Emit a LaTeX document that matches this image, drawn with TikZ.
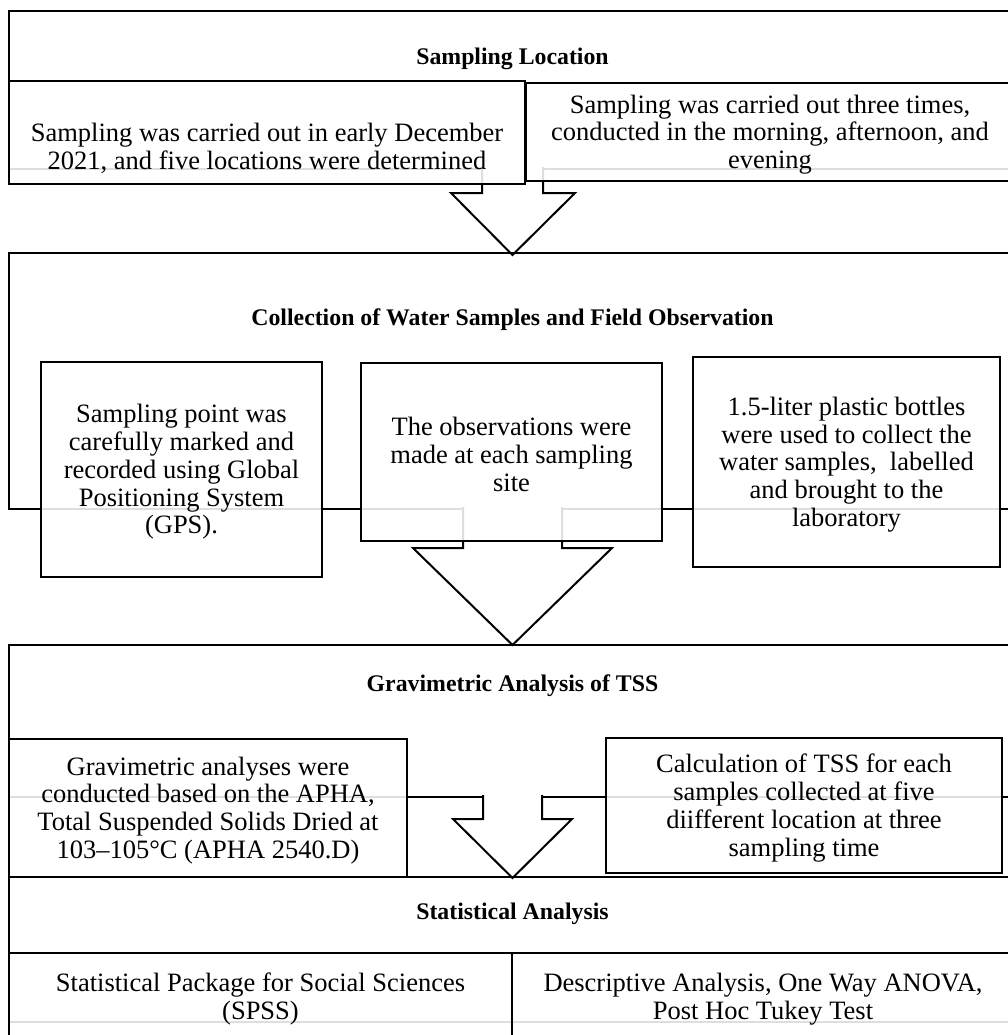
\documentclass[tikz,border=0pt]{standalone}
\usepackage{fontspec}
\setmainfont{Liberation Serif}
\usepackage{tikz}
\usetikzlibrary{calc, positioning, fit}
\tikzset{
    stage/.style={draw, line width=1pt, inner sep=0pt},
    heading/.style={font=\fontsize{11.9pt}{13pt}\selectfont\bfseries},
    subbox/.style={draw, line width=1pt, fill=white, fill opacity=0.87,
        inner sep=0pt},
    boxtext/.style={align=center, inner sep=0pt, yshift=-1.25pt,
        font=\fontsize{13.25pt}{13.9pt}\selectfont},
    flow/.style={draw, line width=1pt, fill=white, line join=miter} }

\begin{document}
\begin{tikzpicture}[x=0.5pt, y=-0.5pt]
      \useasboundingbox (0,0) rectangle (1008,1035);
      \clip (0,0) rectangle (1008,1035);
      % ---- sampling location
      \node[stage, fit={(9,11) (1016,169)}] (locbox) {};
      \node[heading] (loc) at (512.5,59) {Sampling Location};
      \draw[flow] (482,167) -- (482,193) -- (451,193) --
          (512.5,255) -- (575,193) -- (543,193) -- (543,167);
      \node[subbox, fit={(9,81) (525,184)}] (locA) {};
      \node[subbox, fit={(526,83) (1014,181)}] (locB) {};
      \node[boxtext, yshift=-6.75pt] (locAtext) at (locA.center)
          {Sampling was carried out in early December\\
           2021, and five locations were determined};
      \node[boxtext] (locBtext) at (locB.center)
          {Sampling was carried out three times,\\
           conducted in the morning, afternoon, and\\ evening};
      % ---- collection
      \node[stage, fit={(9,253) (1016,509)}] (collbox) {};
      \node[heading] (coll) at (512.5,320)
          {Collection of Water Samples and Field Observation};
      \draw[flow] (463,507) -- (463,548) -- (413,548) --
          (512.5,645) -- (612,548) -- (562,548) -- (562,507);
      \node[subbox, fit={(41,362) (322,577)}] (collA) {};
      \node[subbox, fit={(361,363) (662,541)}] (collB) {};
      \node[subbox, fit={(693,357) (1000,567)}] (collC) {};
      \node[boxtext] (collAtext) at (collA.center)
          {Sampling point was\\ carefully marked and\\ recorded using Global\\
           Positioning System\\ (GPS).};
      \node[boxtext] (collBtext) at (collB.center)
          {The observations were\\ made at each sampling\\ site};
      \node[boxtext] (collCtext) at (collC.center)
          {1.5-liter plastic bottles\\ were used to collect the\\
           water samples,~ labelled\\ and brought to the\\ laboratory};
      % ---- gravimetric analysis
      \node[stage, fit={(9,645) (1016,797)}] (gravbox) {};
      \node[heading] (grav) at (512.5,686) {Gravimetric Analysis of TSS};
      \draw[flow] (483,795) -- (483,819) -- (453,819) --
          (512.5,878) -- (572,819) -- (542,819) -- (542,795);
      \node[subbox, fit={(9,739) (407,877)}] (gravA) {};
      \node[subbox, fit={(606,738) (1002,873)}] (gravB) {};
      \node[boxtext] (gravAtext) at (gravA.center)
          {Gravimetric analyses were\\ conducted based on the APHA,\\
           Total Suspended Solids Dried at\\ 103--105°C (APHA 2540.D)};
      \node[boxtext] (gravBtext) at (gravB.center)
          {Calculation of TSS for each\\ samples collected at five\\
           diifferent location at three\\ sampling time};
      % ---- statistical analysis
      \node[stage, fit={(9,877) (1016,1022)}] (statbox) {};
      \node[heading] (stat) at (512.5,914) {Statistical Analysis};
      \node[subbox, fit={(9,953) (512,1040)}] (statA) {};
      \node[subbox, fit={(512,953) (1014,1040)}] (statB) {};
      \node[boxtext] (statAtext) at (statA.center)
          {Statistical Package for Social Sciences\\ (SPSS)};
      \node[boxtext] (statBtext) at (statB.center)
          {Descriptive Analysis, One Way ANOVA,\\ Post Hoc Tukey Test};
\end{tikzpicture}
\end{document}
